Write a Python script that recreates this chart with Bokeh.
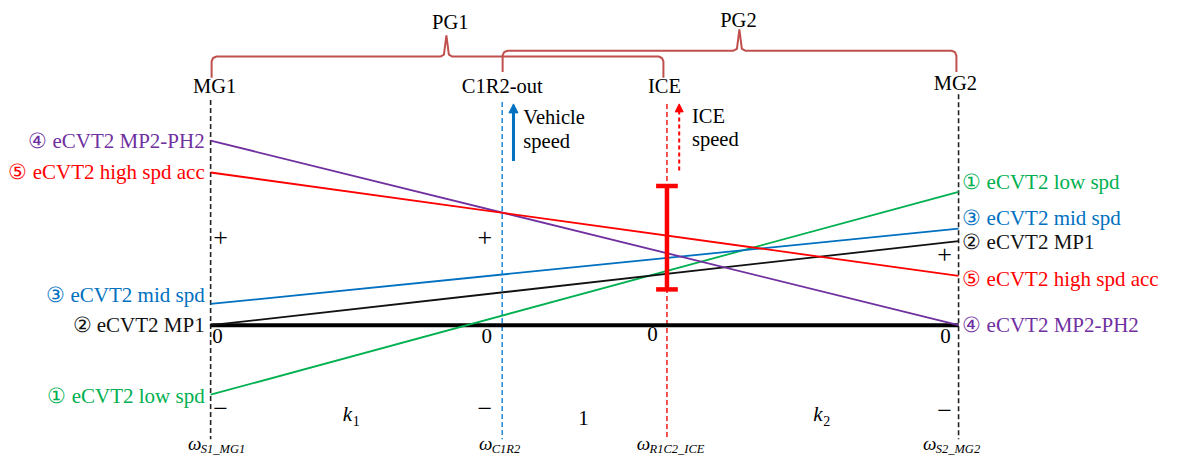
from bokeh.plotting import figure
from bokeh.models import Range1d, Arrow, NormalHead, ColumnDataSource
from bokeh.core.properties import value
from bokeh.embed import file_html
from bokeh.resources import INLINE

# ---------------- data ----------------
k1 = 1.77
k2 = 1.77
nodes = ["MG1", "C1R2-out", "ICE", "MG2"]
node_pos = [0.0, k1, k1 + 1.0, k1 + 1.0 + k2]
node_sub = ["S1_MG1", "C1R2", "R1C2_ICE", "S2_MG2"]
node_colors = ["#222222", "#2E8FD8", "#F02828", "#222222"]

modes = ["① eCVT2 low spd", "② eCVT2 MP1", "③ eCVT2 mid spd",
         "④ eCVT2 MP2-PH2", "⑤ eCVT2 high spd acc"]
speed_mg1 = [-72, 0, 22, 191, 158]
speed_mg2 = [138, 87, 100, 0, 51]
mode_colors = ["#00B050", "#111111", "#0070C0", "#7030A0", "#FF0000"]
ice_speed_range = [37, 144]

groups = ["PG1", "PG2"]

FONT = value("Liberation Serif")

# helpers: reference-picture pixel -> data coordinates (for annotation placement)
def X(px):
    return (px - 213.0) / 167.0

def Y(py):
    return 336.0 - py

W, H = 1169, 458
p = figure(width=W, height=H,
           x_range=Range1d(X(0), X(1185)),
           y_range=Range1d(Y(474), Y(0)),
           x_axis_type=None, y_axis_type=None,
           toolbar_location=None, output_backend="svg",
           min_border=0)
p.grid.visible = False
p.outline_line_color = None
p.background_fill_color = "white"
p.border_fill_color = "white"

# vertical dashed lever lines
tops = [103, 105, 107, 97]
for xp, t, c in zip(node_pos, tops, node_colors):
    p.segment(x0=xp, y0=Y(t), x1=xp, y1=Y(454), line_color=c,
              line_width=1.6, line_dash="5 3")

# zero line
p.segment(x0=node_pos[0], y0=0, x1=node_pos[3], y1=0, line_color="black", line_width=4)

# mode lines
for a, b, c in zip(speed_mg1, speed_mg2, mode_colors):
    p.line([node_pos[0], node_pos[3]], [a, b], line_color=c, line_width=1.8)

# ICE speed range bar
ice = node_pos[2]
p.segment(x0=ice, y0=ice_speed_range[0], x1=ice, y1=ice_speed_range[1],
          line_color="#FF0000", line_width=4.5)
for v in ice_speed_range:
    p.segment(x0=ice - 11 / 167.0, y0=v, x1=ice + 11 / 167.0, y1=v,
              line_color="#FF0000", line_width=4.5)

# braces
def brace(x0, x1, xm, y, ytop, yend):
    pts = [(x0, yend), (x0, y + 5), (x0 + 1.5, y + 1.5), (x0 + 5, y),
           (xm - 6, y), (xm - 2.5, y - 2), (xm, ytop), (xm + 2.5, y - 2), (xm + 6, y),
           (x1 - 5, y), (x1 - 1.5, y + 1.5), (x1, y + 5), (x1, yend)]
    p.line([X(a) for a, _ in pts], [Y(b) for _, b in pts],
           line_color="#C0504D", line_width=2)

brace(214, 672, 452, 58, 36, 80)
brace(509, 969, 749, 52, 30, 74)

def txt(xs, ys, texts, color="black", size="20px", align="center",
        style="normal", baseline="middle"):
    src = ColumnDataSource(dict(x=xs, y=ys, t=texts))
    p.text(x="x", y="y", text="t", source=src, text_color=color,
           text_font=FONT, text_font_size=size, text_align=align,
           text_baseline=baseline, text_font_style=style)

# group labels
txt([X(456), X(748)], [Y(22), Y(20)], groups, size="20.5px")
# node labels
txt([X(217), node_pos[1], X(673), X(968)], [Y(88), Y(88), Y(88), Y(85)], nodes,
    size="20.5px")

# arrows
p.add_layout(Arrow(x_start=X(520), y_start=Y(166), x_end=X(520), y_end=Y(107),
                   line_color="#0070C0", line_width=3,
                   end=NormalHead(size=9, fill_color="#0070C0", line_color="#0070C0")))
p.add_layout(Arrow(x_start=X(688), y_start=Y(176), x_end=X(688), y_end=Y(107),
                   line_color="#FF0000", line_width=2, line_dash="4 3",
                   end=NormalHead(size=8, fill_color="#FF0000", line_color="#FF0000")))
txt([X(530), X(530)], [Y(121), Y(145)], ["Vehicle", "speed"], align="left", size="20.5px")
txt([X(701), X(701)], [Y(120), Y(143)], ["ICE", "speed"], align="left", size="20.5px")

# mode labels left (at MG1) and right (at MG2)
left_y = [409, 336, 305, 145, 178]
right_y = [188, 250, 225, 336, 288]
for m, c, ly, ry in zip(modes, mode_colors, left_y, right_y):
    txt([X(207)], [Y(ly)], [m], color=c, align="right", size="21px")
    txt([X(975)], [Y(ry)], [m], color=c, align="left", size="21px")

# signs
txt([X(223), X(491), X(957)], [Y(245), Y(245), Y(263)], ["+", "+", "+"], size="26px")
txt([X(223), X(491), X(957)], [Y(422), Y(422), Y(424)], ["−", "−", "−"], size="26px")
txt([X(220), X(493), X(661), X(958)], [Y(347), Y(347), Y(345), Y(347)],
    ["0", "0", "0", "0"], size="21px")

# lever ratio labels
txt([X(347), X(824)], [Y(428), Y(428)], ["k", "k"], style="italic", align="left", size="21px")
txt([X(357), X(834)], [Y(435), Y(435)], ["1", "2"], size="14px", align="left")
txt([X(591)], [Y(432)], ["1"], size="21px")

# omega labels
om_x = [190, 485, 645, 935]
txt([X(v) for v in om_x], [Y(458)] * 4, ["ω"] * 4, style="italic", align="left", size="19px")
txt([X(v + 13) for v in om_x], [Y(464)] * 4, node_sub, style="italic", align="left", size="12.5px")

open("out.html", "w").write(file_html(p, INLINE))
